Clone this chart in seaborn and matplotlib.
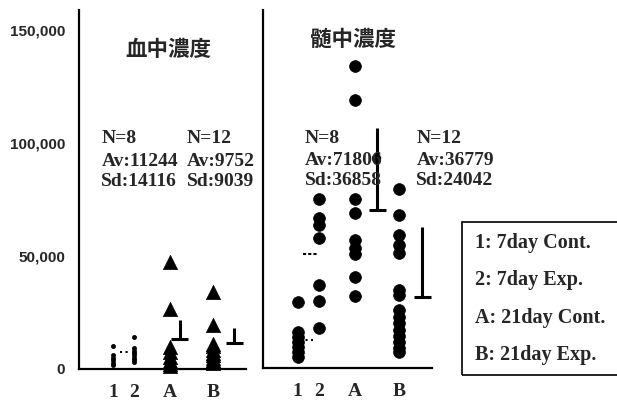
import matplotlib
matplotlib.use("Agg")
import pandas as pd
import matplotlib.pyplot as plt
import seaborn as sns
from matplotlib.patches import Rectangle

# ====================== data ======================
groups = ["1", "2", "A", "B"]
panel_titles = ["血中濃度", "髄中濃度"]
legend_lines = ["1: 7day Cont.", "2: 7day Exp.", "A: 21day Cont.", "B: 21day Exp."]

# blood (left panel)
blood_1 = [10200, 6200, 4900, 4000, 2700, 1800]
blood_2 = [14200, 9300, 8000, 7000, 6000, 5000, 4000, 3000]
blood_A = [47300, 26500, 9700, 7500, 5500, 3500, 2000, 1200]
blood_B = [34000, 19500, 11000, 10000, 8500, 7000, 6000, 5000, 4000, 3500, 3000, 2500]

# marrow (right panel)
marrow_1 = [29200, 15900, 13700, 11500, 9300, 7100, 4900]
marrow_2 = [74800, 66400, 63300, 57500, 36700, 29600, 17700]
marrow_A = [134000, 119000, 75200, 68600, 56600, 53100, 50400, 40300, 31900]
marrow_B = [79600, 67700, 58800, 54400, 50900, 34500, 32300, 25700, 22800,
            20000, 17000, 14000, 11500, 9000, 7000]
marrow_A_on_bar = [93400]

blood_stats = [["N=8", "Av:11244", "Sd:14116"], ["N=12", "Av:9752", "Sd:9039"]]
marrow_stats = [["N=8", "Av:71806", "Sd:36858"], ["N=12", "Av:36779", "Sd:24042"]]

# mean / SD bars for A and B (as drawn)
blood_bar_base = [13300, 11500]
blood_bar_top = [21700, 18100]
marrow_bar_base = [69900, 31400]
marrow_bar_top = [106600, 62400]

# short dotted mean marks for groups 1 and 2
blood_marks = [7500]
marrow_marks = [12400, 50400]

# ====================== layout ======================
pos = {"1": 1.0, "2": 2.0, "A": 3.7, "B": 5.8}
XLIM = (-0.64, 7.36)
YMAX = 158850
yticks = [0, 50000, 100000, 150000]
ytick_labels = ["0", "50,000", "100,000", "150,000"]

SERIF = ["Liberation Serif", "DejaVu Serif"]
SANS = ["Liberation Sans", "DejaVu Sans"]
CJK = ["Noto Sans CJK JP", "DejaVu Sans"]

sns.set_style("white")
plt.rcParams["font.family"] = SANS


def long_df(d):
    rows = [(g, pos[g], v) for g, vals in d.items() for v in vals]
    return pd.DataFrame(rows, columns=["group", "pos", "value"])


fig = plt.figure(figsize=(6.17, 4.05), dpi=100)
ax1 = fig.add_axes([79 / 617, 36 / 405, 167 / 617, 359 / 405])
ax2 = fig.add_axes([263 / 617, 37 / 405, 169 / 617, 358 / 405])

# ---------- left: blood ----------
small = long_df({"1": blood_1, "2": blood_2})
tri = long_df({"A": blood_A, "B": blood_B})
sns.scatterplot(data=small, x="pos", y="value", ax=ax1, color="black",
                marker="o", s=9, edgecolor="black", linewidth=0.5, legend=False, clip_on=False)
sns.scatterplot(data=tri, x="pos", y="value", ax=ax1, color="black",
                marker="^", s=105, edgecolor="black", linewidth=0.5, legend=False, clip_on=False)

# ---------- right: marrow ----------
circ = long_df({"1": marrow_1, "2": marrow_2, "A": marrow_A, "B": marrow_B})
sns.scatterplot(data=circ, x="pos", y="value", ax=ax2, color="black",
                marker="o", s=72, edgecolor="black", linewidth=0.5, legend=False, clip_on=False)
sns.scatterplot(x=[pos["A"] + 1.02] * len(marrow_A_on_bar), y=marrow_A_on_bar, ax=ax2,
                color="black", marker="o", s=55, legend=False)

# mean/SD bars
bar_specs = [
    (ax1, blood_bar_base, blood_bar_top, [0.49, 1.0]),
    (ax2, marrow_bar_base, marrow_bar_top, [1.06, 1.1]),
]
for ax, base, top, offs in bar_specs:
    for g, b, t, o in zip(["A", "B"], base, top, offs):
        x = pos[g] + o
        ax.vlines(x, b, t, color="black", lw=2.2)
        ax.hlines(b, x - 0.4, x + 0.4, color="black", lw=2.2)

# dotted short mean marks
ax1.hlines(blood_marks[0], 1.33, 1.71, color="black", lw=1.5, linestyles=":")
ax2.hlines(marrow_marks[0], 1.1, 1.71, color="black", lw=1.5, linestyles=":")
ax2.hlines(marrow_marks[1], 1.24, 1.95, color="black", lw=1.5, linestyles=(0, (1.5, 1)))

# axes styling
for ax in (ax1, ax2):
    ax.set_xlim(*XLIM)
    ax.set_ylim(0, YMAX)
    ax.set_xlabel("")
    ax.set_ylabel("")
    ax.spines["top"].set_visible(False)
    ax.spines["right"].set_visible(False)
    for s in ("left", "bottom"):
        ax.spines[s].set_color("black")
        ax.spines[s].set_linewidth(1.6)
    ax.set_xticks([pos[g] for g in groups])
    ax.set_xticklabels(groups, fontfamily=SERIF, fontweight="bold", fontsize=14)
    ax.tick_params(axis="x", length=0, pad=11)
    ax.set_yticks(yticks)
    ax.tick_params(axis="y", direction="in", length=3, width=1, color="black")
    ax.set_facecolor("white")

ax1.set_yticklabels(ytick_labels, fontfamily=SANS, fontweight="bold", fontsize=11)
ax1.tick_params(axis="y", pad=10)
ax2.set_yticklabels([])

# titles
ax1.text(3.62, 141200, panel_titles[0], fontfamily=CJK, fontweight="bold",
         fontsize=15.5, ha="center", va="center")
ax2.text(3.62, 145600, panel_titles[1], fontfamily=CJK, fontweight="bold",
         fontsize=15.5, ha="center", va="center")

# stats text
stat_y = [102000, 92000, 83000]
for ax, stats, xs in [(ax1, blood_stats, [0.43, 4.52]), (ax2, marrow_stats, [1.33, 6.62])]:
    for st, x in zip(stats, xs):
        for line, y in zip(st, stat_y):
            ax.text(x, y, line, fontfamily=SERIF, fontweight="bold", fontsize=14,
                    ha="left", va="center", clip_on=False)

# legend box
fig.patches.append(Rectangle((462 / 617, 30 / 405), 160 / 617, 153 / 405,
                             transform=fig.transFigure, fill=False,
                             edgecolor="black", lw=1.2))
for i, line in enumerate(legend_lines):
    fig.text(475 / 617, (405 - (243 + 37.3 * i)) / 405, line, fontfamily=SERIF,
             fontweight="bold", fontsize=14.5, ha="left", va="center")

fig.savefig("out.png", dpi=100, facecolor="white")
